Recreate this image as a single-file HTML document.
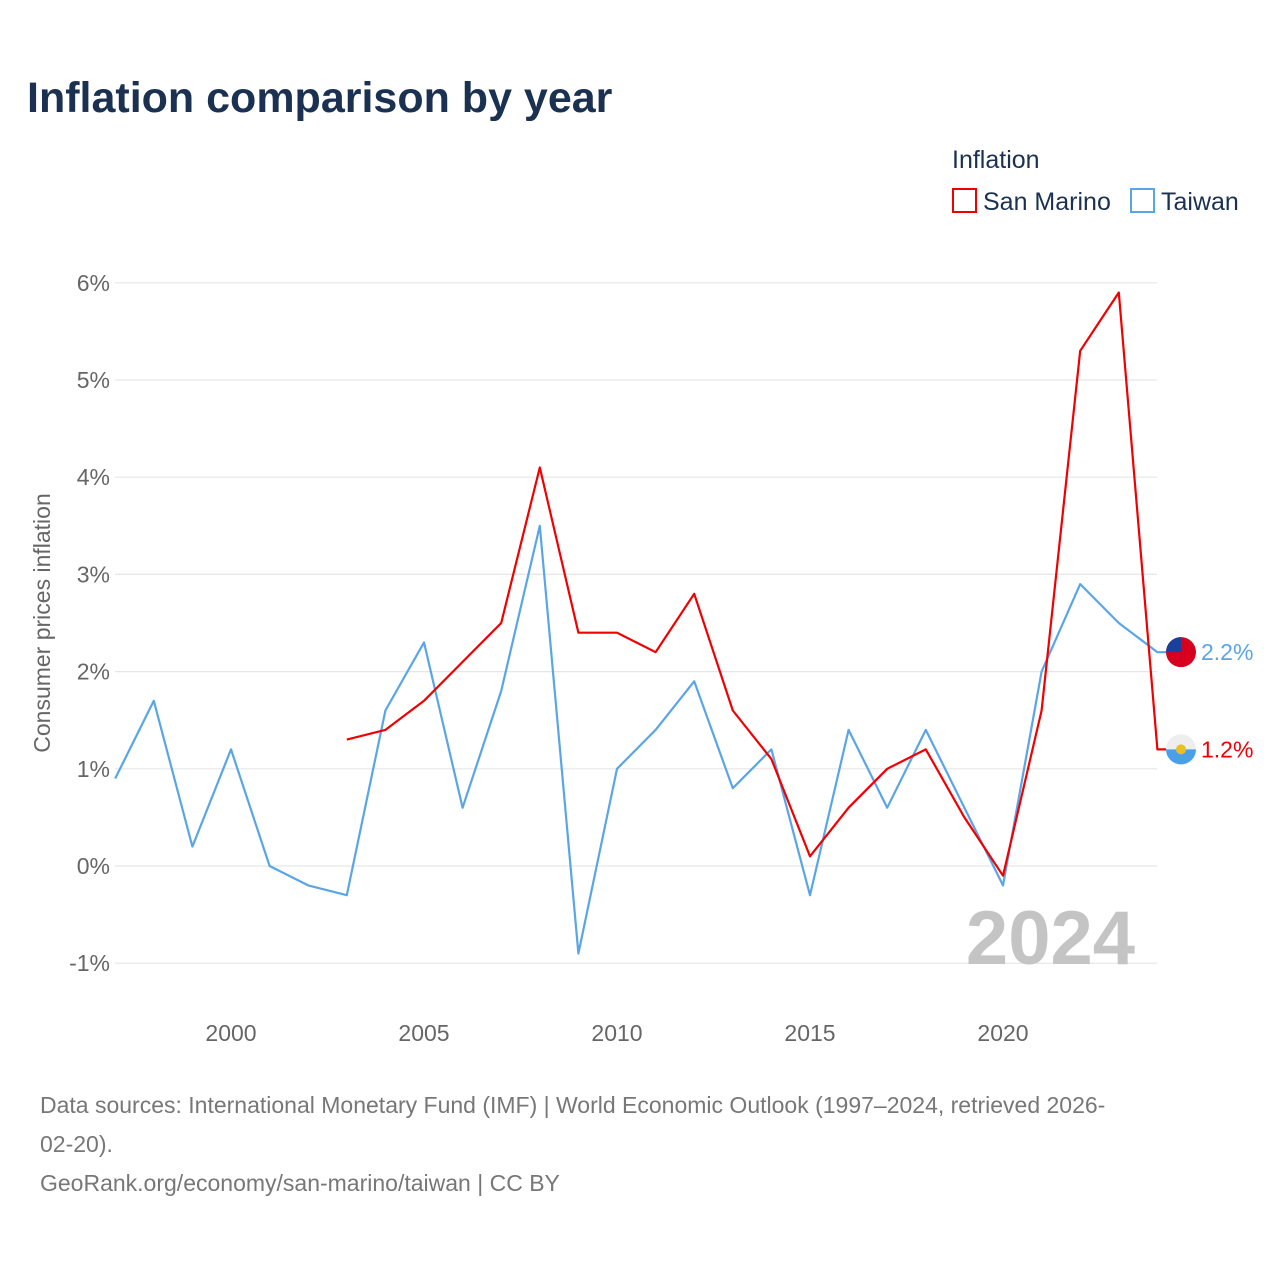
<!DOCTYPE html>
<html><head><meta charset="utf-8"><style>
body{margin:0;background:#fff;width:1280px;height:1280px;overflow:hidden;font-family:"Liberation Sans",sans-serif}
svg{display:block}
</style></head><body>
<svg id="chart" width="1280" height="1280">
<text x="27" y="112" font-size="43" font-weight="bold" fill="#1b3152">Inflation comparison by year</text>
<text x="952" y="168" font-size="25" fill="#1b3152">Inflation</text>
<g><rect x="953" y="189" width="23" height="23" fill="#fff" stroke="#e00" stroke-width="2"/><text x="983" y="210" font-size="25" fill="#1b3152">San Marino</text></g>
<g><rect x="1131" y="189" width="23" height="23" fill="#fff" stroke="#5aa5e6" stroke-width="2"/><text x="1161" y="210" font-size="25" fill="#1b3152">Taiwan</text></g>
<g id="grid"></g>
<text transform="translate(50,623) rotate(-90)" text-anchor="middle" font-size="23" fill="#666">Consumer prices inflation</text>
<text x="1135" y="964" text-anchor="end" font-size="76" font-weight="bold" fill="#c4c4c4">2024</text>
<g id="lines"></g>
<text x="40" y="1113" font-size="23" fill="#777">Data sources: International Monetary Fund (IMF) | World Economic Outlook (1997–2024, retrieved 2026-</text>
<text x="40" y="1152" font-size="23" fill="#777">02-20).</text>
<text x="40" y="1191" font-size="23" fill="#777">GeoRank.org/economy/san-marino/taiwan | CC BY</text>
</svg>
<script>
const years=[1997,1998,1999,2000,2001,2002,2003,2004,2005,2006,2007,2008,2009,2010,2011,2012,2013,2014,2015,2016,2017,2018,2019,2020,2021,2022,2023,2024];
const taiwan=[0.9,1.7,0.2,1.2,0.0,-0.2,-0.3,1.6,2.3,0.6,1.8,3.5,-0.9,1.0,1.4,1.9,0.8,1.2,-0.3,1.4,0.6,1.4,0.6,-0.2,2.0,2.9,2.5,2.2];
const sanMarino=[null,null,null,null,null,null,1.3,1.4,1.7,2.1,2.5,4.1,2.4,2.4,2.2,2.8,1.6,1.1,0.1,0.6,1.0,1.2,0.5,-0.1,1.6,5.3,5.9,1.2];
const yTicks=[-1,0,1,2,3,4,5,6];
const xTicks=[2000,2005,2010,2015,2020];
const NS="http://www.w3.org/2000/svg";
const x=v=>115.2+(v-1997)*38.6;
const y=v=>866-v*97.2;
function mk(t,a,p){const e=document.createElementNS(NS,t);for(const k in a)e.setAttribute(k,a[k]);p.appendChild(e);return e;}
const g=document.getElementById('grid');
yTicks.forEach(t=>{
 const l=mk('line',{x1:115,x2:1157,y1:y(t),y2:y(t),stroke:'#e6e6e6','stroke-width':1.2},g);
 
 
 const tx=mk('text',{x:110,y:y(t)+8,'text-anchor':'end','font-size':23,fill:'#666'},g);
 tx.textContent=t+'%';
 
 
});
xTicks.forEach(t=>{
 const tx=mk('text',{x:x(t),y:1041,'text-anchor':'middle','font-size':23,fill:'#666'},g);
 tx.textContent=t;
 
 
});
const L=document.getElementById('lines');
function series(vals,color,name){
 let d='';let pen=false;
 vals.forEach((v,i)=>{if(v==null){pen=false;return;}d+=(pen?'L':'M')+x(years[i]).toFixed(1)+','+y(v).toFixed(1);pen=true;});
 const last=vals[vals.length-1];
 const ly=y(last);
 d+='L1166,'+ly.toFixed(1);
 const p=mk('path',{d:d,fill:'none',stroke:color,'stroke-width':2.2,'stroke-linejoin':'round'},L);
 
 
 const c=mk('circle',{cx:1181,cy:ly,r:15,fill:name==='taiwan'?'#d7001e':'#eee'},L);
 
 
 if(name==='taiwan'){mk('path',{d:`M1166,${ly} A15,15 0 0 1 1181,${ly-15} L1181,${ly} Z`,fill:'#1a3f9c'},L);}
 else{mk('path',{d:`M1166,${ly} A15,15 0 0 0 1196,${ly} Z`,fill:'#4aa0e8'},L);mk('circle',{cx:1181,cy:ly,r:5,fill:'#e8c020'},L);}
 const t=mk('text',{x:1201,y:ly+8,'font-size':23,fill:color},L);
 t.textContent=last.toFixed(1)+'%';
 
 
}
series(taiwan,'#5aa5e6','taiwan');
series(sanMarino,'#f00000','san-marino');
</script>
</body></html>
